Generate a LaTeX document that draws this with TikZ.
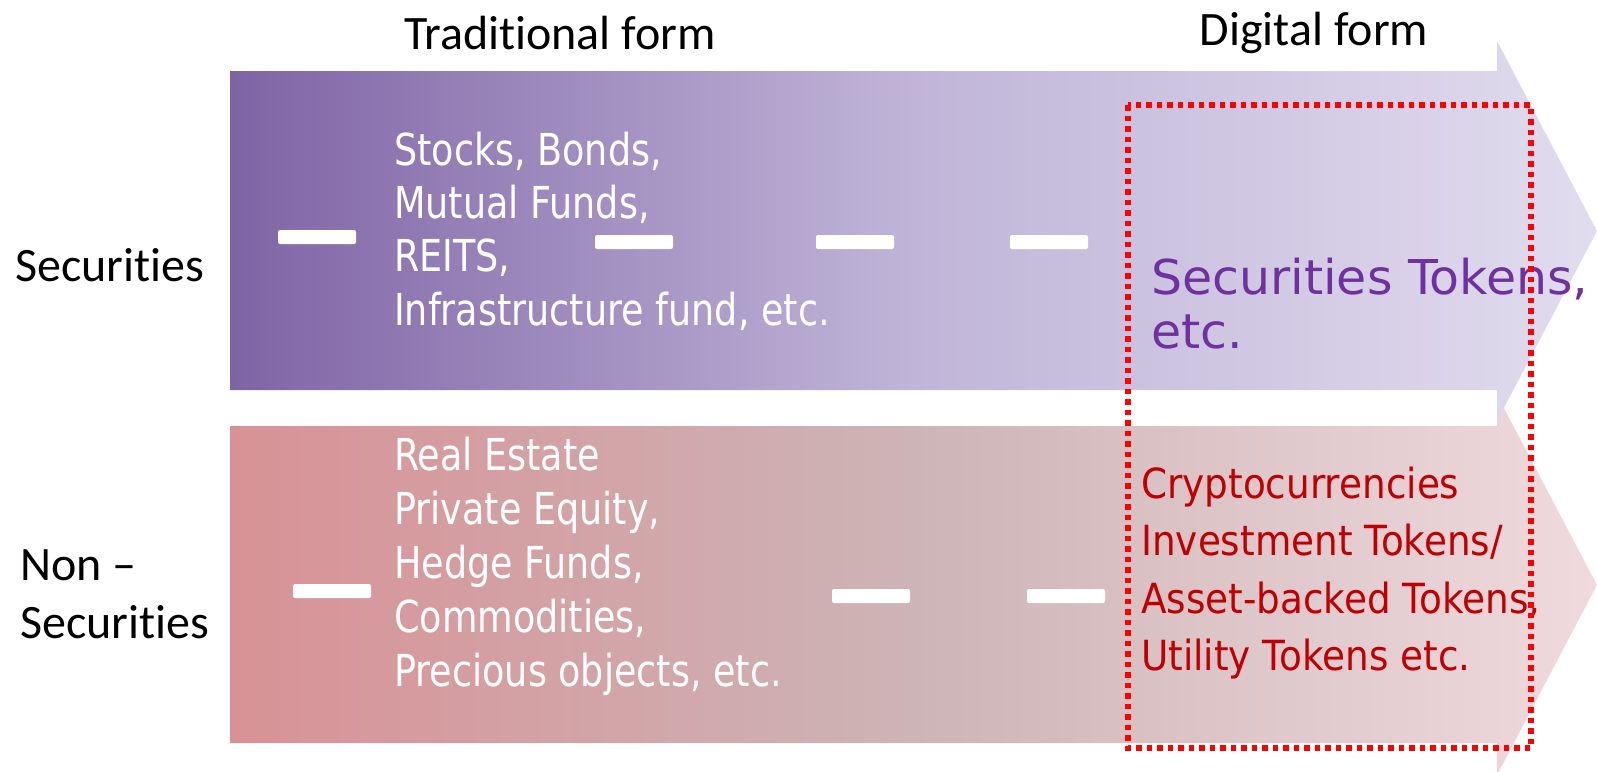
\documentclass[tikz,border=0pt]{standalone}
\usepackage{fontspec}
\setmainfont[Ligatures=NoCommon]{Carlito}
\newfontfamily\whitefont[FakeStretch=0.83]{DejaVu Sans}
\newfontfamily\redfont[FakeStretch=0.9]{DejaVu Sans}
\newfontfamily\purplefont[FakeStretch=1.02]{DejaVu Sans}
\definecolor{topL}{RGB}{127,100,165}
\definecolor{topM}{RGB}{192,181,216}
\definecolor{topR}{RGB}{225,220,238}
\definecolor{botL}{RGB}{216,146,150}
\definecolor{botM}{RGB}{205,180,182}
\definecolor{botR}{RGB}{240,218,222}
\definecolor{tokpurple}{RGB}{112,48,160}
\definecolor{tokred}{RGB}{192,0,0}
\tikzset{
  dashbar/.style={fill=white, draw=none, rounded corners=2pt, minimum width=78pt, minimum height=14pt, inner sep=0pt},
  headlabel/.style={font=\fontsize{48}{54}\selectfont, text=black, inner sep=0pt},
  sidelabel/.style={font=\fontsize{48}{58}\selectfont, text=black, inner sep=0pt, align=left},
  whitetext/.style={text=white, inner sep=0pt, align=left, anchor=west},
}
\begin{document}
\begin{tikzpicture}[x=1pt,y=-1pt]
\useasboundingbox (0,0) rectangle (1597,771);
% lower arrow
\shade[left color=botL, right color=botR, middle color=botM]
  (230,426) -- (1497,426) -- (1497,395) -- (1597,585) -- (1497,775) -- (1497,743) -- (230,743) -- cycle;
% upper arrow
\shade[left color=topL, right color=topR, middle color=topM]
  (230,71) -- (1497,71) -- (1497,41) -- (1597,231) -- (1497,421) -- (1497,390) -- (230,390) -- cycle;
% headings
\node[headlabel] (trad) at (560,33) {Traditional form};
\node[headlabel] (digi) at (1314,33) {Digital form};
\node[sidelabel] (sec) at (110,265) {Securities};
\node[sidelabel, anchor=west] (nonsec) at (20,594) {Non –\\Securities};
% dashes
\node[dashbar] (d1) at (317,237) {};
\node[dashbar] (d2) at (634,242) {};
\node[dashbar] (d3) at (855,242) {};
\node[dashbar] (d4) at (1049,242) {};
\node[dashbar] (d5) at (332,591) {};
\node[dashbar] (d6) at (871,596) {};
\node[dashbar] (d7) at (1066,596) {};
% texts
\node[whitetext, font=\whitefont\fontsize{44}{53.3}\selectfont] (tradsec) at (394,231)
  {Stocks, Bonds,\\Mutual Funds,\\REITS,\\Infrastructure fund, etc.};
\node[whitetext, font=\whitefont\fontsize{44}{54}\selectfont] (tradnon) at (394,566)
  {Real Estate\\Private Equity,\\Hedge Funds,\\Commodities,\\Precious objects, etc.};
\node[whitetext, text=tokpurple, font=\purplefont\fontsize{48}{54}\selectfont] (digsec) at (1151,304)
  {Securities Tokens,\\etc.};
\node[whitetext, text=tokred, font=\redfont\fontsize{41.5}{57.3}\selectfont] (dignon) at (1141,573)
  {Cryptocurrencies\\Investment Tokens/\\Asset-backed Tokens,\\Utility Tokens etc.};
% dotted frame
\draw[red, line width=5.5pt, dash pattern=on 5.5pt off 5pt] (1128,105) rectangle (1531,748);
\end{tikzpicture}
\end{document}
